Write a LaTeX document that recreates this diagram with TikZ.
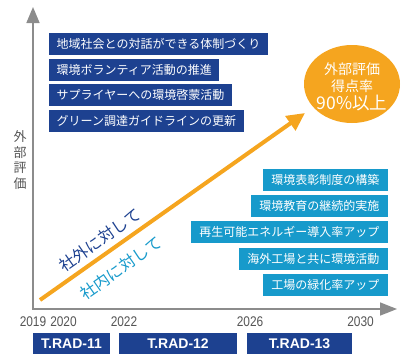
\documentclass[tikz,border=0pt]{standalone}
\usepackage{fontspec}
\setmainfont{Noto Sans CJK JP}
\newfontfamily\numfont[FakeStretch=0.85]{Liberation Sans}
\newfontfamily\labfont{Liberation Sans}
\usetikzlibrary{arrows.meta,shapes.geometric}
\definecolor{dblue}{HTML}{1D4190}
\definecolor{lblue}{HTML}{179ACB}
\definecolor{gold}{HTML}{F5A51F}
\definecolor{axisgray}{HTML}{8C8C8C}
\definecolor{txtgray}{HTML}{555555}
\begin{document}
\begin{tikzpicture}[x=1pt,y=-1pt,
  lbox/.style={fill=dblue, text=white, font=\fontsize{12}{12}\selectfont, inner xsep=7.5pt, inner ysep=0pt, minimum height=22pt, anchor=west},
  rbox/.style={fill=lblue, text=white, font=\fontsize{12}{12}\selectfont, inner xsep=8.5pt, inner ysep=0pt, minimum height=22pt, anchor=east},
  tbox/.style={fill=dblue, text=white, font=\labfont\bfseries\fontsize{14}{14}\selectfont, inner sep=0pt, minimum height=21pt},
  year/.style={text=txtgray, font=\numfont\fontsize{14}{14}\selectfont, inner sep=0pt},
  axis/.style={draw=axisgray, line width=1.6pt},
  goalarrow/.style={draw=gold, line width=4pt, -{Triangle[length=18pt,width=17pt]}},
  slant/.style={rotate=35, font=\fontsize{16}{16}\selectfont, inner sep=0pt},
  goaltext/.style={text=white, inner sep=0pt}
]
\useasboundingbox (0,0) rectangle (401,354);
% axes
\coordinate (ytop) at (33,7);
\coordinate (O) at (33,309);
\coordinate (xend) at (397,309);
\draw[axis, {Triangle[length=16pt,width=13pt]}-{Triangle[length=17pt,width=13pt]}] (ytop) -- (O) -- (xend);
\node[text=txtgray, align=center, inner sep=0pt, font=\fontsize{13}{15.5}\selectfont] (ylab) at (20,160) {外\\部\\評\\価};
% left boxes
\node[lbox] (l1) at (49,44) {地域社会との対話ができる体制づくり};
\node[lbox] (l2) at (49,70) {環境ボランティア活動の推進};
\node[lbox] (l3) at (49,95) {サプライヤーへの環境啓蒙活動};
\node[lbox] (l4) at (49,121) {グリーン調達ガイドラインの更新};
% right boxes
\node[rbox] (r1) at (388,179.5) {環境表彰制度の構築};
\node[rbox] (r2) at (388,206) {環境教育の継続的実施};
\node[rbox] (r3) at (388,232) {再生可能エネルギー導入率アップ};
\node[rbox] (r4) at (388,259) {海外工場と共に環境活動};
\node[rbox] (r5) at (388,285) {工場の緑化率アップ};
% goal
\node[ellipse, fill=gold, minimum width=96pt, minimum height=78pt, inner sep=0pt] (goal) at (352,84) {};
\node[goaltext, font=\fontsize{14}{14}\selectfont] (g1) at (352,69) {外部評価};
\node[goaltext, font=\fontsize{14}{14}\selectfont] (g2) at (352,86) {得点率};
\node[goaltext, font=\fontsize{17.5}{17.5}\selectfont] (g3) at (352,103) {90\%以上};
% arrow
\coordinate (start) at (40,300);
\coordinate (tip) at (305,113);
\draw[goalarrow] (start) -- (tip);
\node[slant, text=dblue] (outside) at (100,240) {社外に対して};
\node[slant, text=lblue] (inside) at (121,268) {社内に対して};
% years
\node[year] (y19) at (33,322) {2019};
\node[year] (y20) at (63.5,322) {2020};
\node[year] (y22) at (124,322) {2022};
\node[year] (y26) at (250,322) {2026};
\node[year] (y30) at (360.5,322) {2030};
% bottom boxes
\node[tbox, minimum width=77pt] (t11) at (71.5,343.5) {T.RAD-11};
\node[tbox, minimum width=118pt] (t12) at (178,343.5) {T.RAD-12};
\node[tbox, minimum width=105pt] (t13) at (299.5,343.5) {T.RAD-13};
\end{tikzpicture}
\end{document}
